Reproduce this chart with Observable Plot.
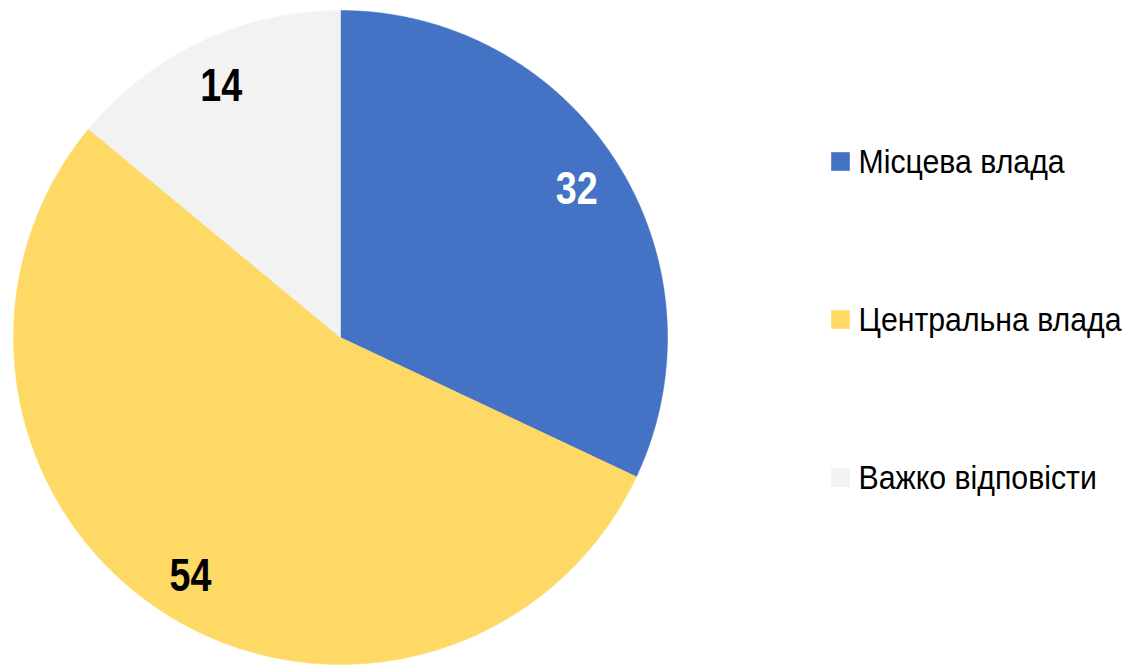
<!DOCTYPE html>
<html>
<head>
<meta charset="utf-8">
<script src="https://cdn.jsdelivr.net/npm/d3@7"></script>
<script src="https://cdn.jsdelivr.net/npm/@observablehq/plot@0.6"></script>
<style>
  html, body { margin: 0; padding: 0; background: #fff; }
  #chart svg { display: block; }
</style>
</head>
<body>
<div id="chart"></div>
<script>
// Data
const categories = ["Місцева влада", "Центральна влада", "Важко відповісти"];
const values = [32, 54, 14];
const colors = ["#4472C4", "#FFD966", "#F2F2F2"];
const labelColors = ["#ffffff", "#000000", "#000000"];

const FONT = "'Liberation Sans', Arial, sans-serif";
const NARROW_LABEL = 0.82;   // emulate Arial Narrow for value labels
const NARROW_LEGEND = 0.89;  // legend text condensing

// Layout (pixels)
const W = 1140, H = 670;
const cx = 340, cy = 337, R = 327;

const table = categories.map((c, i) => ({category: c, value: values[i], color: colors[i], labelColor: labelColors[i]}));
const arcs = d3.pie().sort(null).value(d => d.value)(table);

// Build slice polygons from pie angles (angle 0 = 12 o'clock, clockwise)
const slicePts = [];
arcs.forEach(a => {
  const cat = a.data.category;
  slicePts.push({category: cat, x: 0, y: 0});
  const steps = Math.max(2, Math.ceil((a.endAngle - a.startAngle) / (Math.PI / 720)));
  for (let k = 0; k <= steps; k++) {
    const t = a.startAngle + (a.endAngle - a.startAngle) * k / steps;
    slicePts.push({category: cat, x: R * Math.sin(t), y: R * Math.cos(t)});
  }
  slicePts.push({category: cat, x: 0, y: 0});
});

const labelR = R * 0.856;
const labels = arcs.map(a => {
  const m = (a.startAngle + a.endAngle) / 2;
  return {text: String(a.data.value), x: labelR * Math.sin(m), y: labelR * Math.cos(m), fill: a.data.labelColor};
});

// Legend rows
const legendY = [176, 18, -140];
const legend = table.map((d, i) => ({category: d.category, color: d.color, y: legendY[i]}));

const plot = Plot.plot({
  width: W,
  height: H,
  margin: 0,
  x: {domain: [-cx, W - cx], range: [0, W], axis: null},
  y: {domain: [-(H - cy), cy], range: [H, 0], axis: null},
  color: {domain: categories, range: colors},
  style: {fontFamily: FONT, background: "#fff"},
  marks: [
    Plot.line(slicePts, {x: "x", y: "y", z: "category", fill: "category", stroke: "category", strokeWidth: 0.5, curve: "linear"}),
    Plot.text(labels, {x: "x", y: "y", text: "text", fill: d => d.fill, fontSize: 46, fontWeight: "bold", fontFamily: FONT, dy: 2}),
    Plot.dot(legend, {x: () => 500, y: "y", symbol: "square", r: 10.5, fill: "category", stroke: null}),
    Plot.text(legend, {x: () => 518, y: "y", text: "category", textAnchor: "start", fontSize: 34, fill: "#000", fontFamily: FONT, dy: 1})
  ]
});

// Horizontally condense text to mimic a narrow typeface
d3.select(plot).selectAll("g[aria-label=text]").each(function (_, gi) {
  const s = gi === 0 ? NARROW_LABEL : NARROW_LEGEND;
  d3.select(this).selectAll("text").each(function () {
    const t = this.getAttribute("transform") || "";
    this.setAttribute("transform", `${t} scale(${s},1)`);
  });
});

document.getElementById("chart").appendChild(plot);
</script>
</body>
</html>
